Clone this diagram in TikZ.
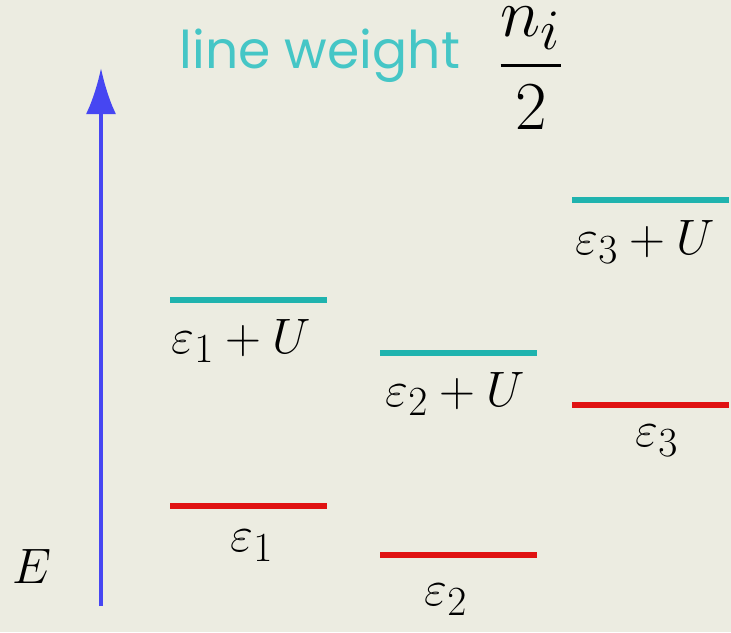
\documentclass[tikz,border=0pt]{standalone}
\usepackage{amsmath}
\usepackage{fontspec}
\usepackage{xcolor}
\usetikzlibrary{arrows.meta}
\newfontfamily\labelfont{Poppins}
\definecolor{paper}{HTML}{ECECE1}
\definecolor{upcol}{HTML}{1FB3AE}
\definecolor{lowcol}{HTML}{E01212}
\definecolor{axiscol}{HTML}{4646F2}
\definecolor{notecol}{HTML}{45C6C6}

\begin{document}
\begin{tikzpicture}[x=0.5pt, y=-0.5pt,
    level/.style={line width=3pt},
    upper/.style={level, upcol},
    lower/.style={level, lowcol},
    lbl/.style={font=\fontsize{28}{34}\selectfont, inner sep=0pt}]
        % Background
        \fill[paper] (0,0) rectangle (731,632);
        \useasboundingbox (0,0) rectangle (731,632);

        % Energy axis
        \coordinate (ebot) at (101, 606);
        \coordinate (etop) at (101, 68);
        \draw[axiscol, line width=2pt, -{Latex[length=23pt, width=15pt]}] (ebot) -- (etop);
        \node[lbl] (elab) at (32, 566) {$E$};

        % Title
        \node[notecol, font=\labelfont\fontsize{26}{30}\selectfont, inner sep=0pt] (note) at (320, 56) {line weight};
        \node[lbl] (frac) at (531, 68) {\scalebox{1.38}{$\displaystyle\frac{n_i}{2}$}};

        % Define end points of the levels
        \coordinate (u1a) at (170, 300);
        \coordinate (u1b) at (327, 300);
        \coordinate (u2a) at (380, 353);
        \coordinate (u2b) at (537, 353);
        \coordinate (u3a) at (572, 200);
        \coordinate (u3b) at (729, 200);
        \coordinate (l1a) at (170, 506);
        \coordinate (l1b) at (327, 506);
        \coordinate (l2a) at (380, 555);
        \coordinate (l2b) at (537, 555);
        \coordinate (l3a) at (572, 405);
        \coordinate (l3b) at (729, 405);

        % Draw levels
        \draw[upper] (u1a) -- (u1b);
        \draw[upper] (u2a) -- (u2b);
        \draw[upper] (u3a) -- (u3b);
        \draw[lower] (l1a) -- (l1b);
        \draw[lower] (l2a) -- (l2b);
        \draw[lower] (l3a) -- (l3b);

        % Label levels
        \node[lbl] (u1lab) at (241, 341) {$\varepsilon_1 + U$};
        \node[lbl] (u2lab) at (455, 394) {$\varepsilon_2 + U$};
        \node[lbl] (u3lab) at (645, 242) {$\varepsilon_3 + U$};
        \node[lbl] (l1lab) at (252, 546) {$\varepsilon_1$};
        \node[lbl] (l2lab) at (446, 600) {$\varepsilon_2$};
        \node[lbl] (l3lab) at (657, 441) {$\varepsilon_3$};
    \end{tikzpicture}
\end{document}
